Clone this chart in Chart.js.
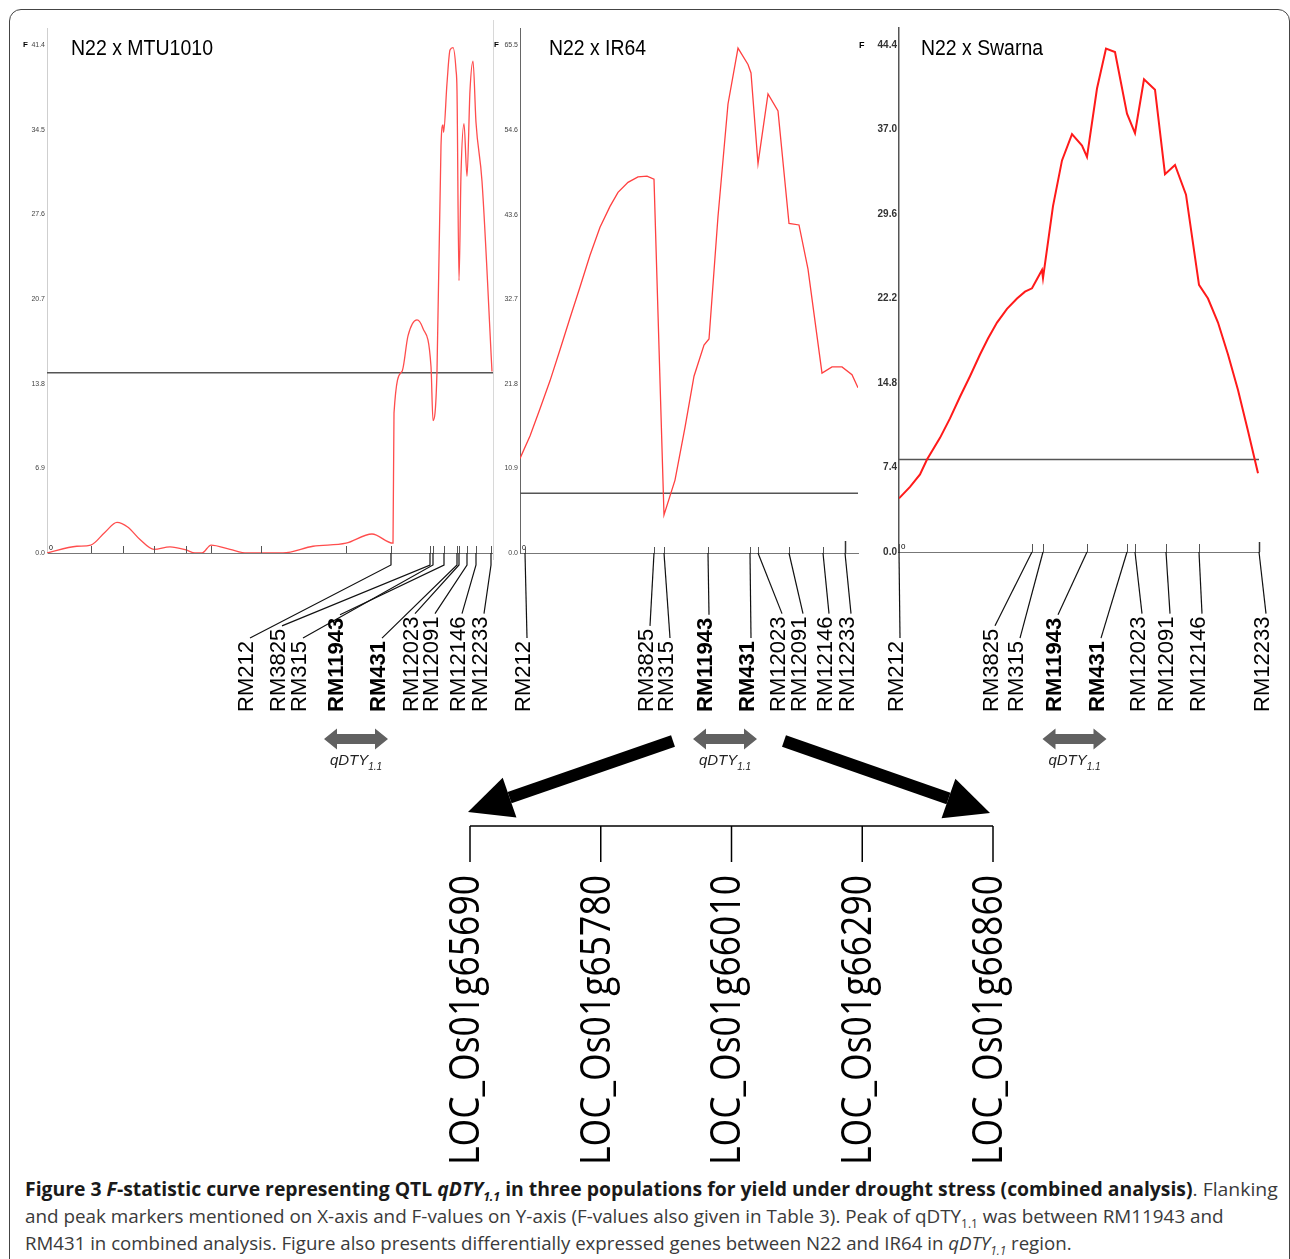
<!DOCTYPE html>
<html>
<head>
<meta charset="utf-8">
<script src="https://cdn.jsdelivr.net/npm/chart.js@4.4.0/dist/chart.umd.min.js"></script>
<style>
  body { margin: 0; background: #fff; }
  #fig { position: relative; width: 1290px; height: 1259px; overflow: hidden; background: #fff; }
  #frame { position: absolute; left: 9px; top: 9px; width: 1279px; height: 1300px; border: 1.5px solid #444; border-radius: 12px; }
  #fig canvas { position: absolute; left: 0; top: 0; }
  .cap { position: absolute; left: 25px; white-space: nowrap; font-family: 'Open Sans', sans-serif; font-size: 19px; line-height: 20px; color: #3a3a3a; transform-origin: 0 0; }
  .cap b { color: #1a1a1a; }
  .cap sub { font-size: 12px; line-height: 0; }
</style>
</head>
<body>
<div id="fig">
  <div id="frame"></div>
  <div class="cap" id="c1" style="top:1179px"><b>Figure 3 <i>F</i>-statistic curve representing QTL <i>qDTY<sub>1.1</sub></i> in three populations for yield under drought stress (combined analysis)</b>. Flanking</div>
  <div class="cap" id="c2" style="top:1206px">and peak markers mentioned on X-axis and F-values on Y-axis (F-values also given in Table 3). Peak of qDTY<sub>1.1</sub> was between RM11943 and</div>
  <div class="cap" id="c3" style="top:1233px">RM431 in combined analysis. Figure also presents differentially expressed genes between N22 and IR64 in <i>qDTY<sub>1.1</sub></i> region.</div>
</div>
<script>
// markers shown under every panel
const markerNames = ['RM212', 'RM3825', 'RM315', 'RM11943', 'RM431', 'RM12023', 'RM12091', 'RM12146', 'RM12233'];
const peakMarkers = ['RM11943', 'RM431'];

// N22 x MTU1010
const mtuPos = [0, 14.9, 21.9, 29, 35, 40.5, 46.5, 53.5, 61.5, 69.5, 74, 77.5, 82, 91.5, 100, 107, 118, 133, 149.5, 162.5, 173,
  173.5, 177.5, 180.5, 185, 188, 192, 193, 195, 197, 198, 198.3, 200, 201.5, 203, 204.5, 205, 206, 207, 208.5, 210, 211.5, 213, 214.5, 217.5, 222.5];
const mtuF = [0, 0.55, 0.65, 1.7, 2.5, 2.1, 1.1, 0.3, 0.5, 0.25, 0, 0, 0.65, 0.3, 0, 0, 0, 0.55, 0.8, 1.55, 0.8,
  11.4, 14.8, 17.7, 19.0, 18.3, 15.2, 10.8, 14.8, 33.2, 34.9, 34.3, 38.3, 41.0, 41.2, 39.4, 37.7, 22.2, 30.9, 35.0, 30.7, 37.7, 40.1, 35.1, 30.3, 14.8];
const mtuMarkers = [172, 191.5, 193, 198.5, 205, 206, 210, 214.5, 222];
const mtuOtherMarkers = [22, 38, 53.5, 69.5, 82, 107, 149.5];
const mtuThreshold = 14.7;
const mtuTicks = [0, 6.9, 13.8, 20.7, 27.6, 34.5, 41.4];

// N22 x IR64
const ir64Pos = [0, 5, 10, 15, 20, 25, 30, 35, 40, 45, 49, 54, 59, 63.5, 67, 72, 77.5, 82.5, 87, 92, 94.5, 99, 104, 109,
  114, 115.5, 119, 124, 129, 134.5, 139.5, 144, 151, 156, 161, 166, 169];
const ir64F = [12.2, 15.1, 18.6, 22.2, 26.2, 30.3, 34.3, 38.4, 42.0, 44.7, 46.5, 47.8, 48.5, 48.6, 48.2, 4.9, 9.4, 16.2, 22.8, 26.8, 27.6, 43.4, 57.9, 65.1,
  63.0, 61.9, 50.2, 59.2, 57.0, 42.5, 42.3, 36.6, 23.2, 24.0, 24.0, 23.0, 21.3];
const ir64Markers = [2.5, 67, 72, 94, 115, 119, 134.5, 151.5, 162.5];
const ir64Threshold = 7.7;
const ir64Ticks = [0, 10.9, 21.8, 32.7, 43.6, 54.6, 65.5];

// N22 x Swarna
const swarnaPos = [0, 5.5, 10.5, 14, 20.5, 25.5, 30.5, 35.5, 40.5, 44.5, 49, 54, 59, 63, 66.5, 71.5, 72, 77, 81.5, 86.5, 91.5, 94,
  99, 103.5, 108, 114, 118, 122.5, 128, 133, 138, 143.5, 150, 154.5, 159.5, 164.5, 169.5, 174.5, 179.5];
const swarnaF = [4.7, 5.7, 6.8, 8.1, 10.0, 11.7, 13.6, 15.4, 17.3, 18.7, 20.1, 21.3, 22.2, 22.8, 23.1, 24.7, 24.0, 30.3, 34.3, 36.6, 35.6, 34.6,
  40.6, 44.1, 43.8, 38.4, 36.7, 41.4, 40.5, 33.1, 33.9, 31.3, 23.4, 22.2, 20.1, 17.3, 14.2, 10.6, 6.9];
const swarnaMarkers = [0, 66.5, 72, 94, 114, 118, 133.5, 150, 180];
const swarnaThreshold = 8.1;
const swarnaTicks = [0, 7.4, 14.8, 22.2, 29.6, 37.0, 44.4];

// differentially expressed genes between N22 and IR64
const geneIds = ['LOC_Os01g65690', 'LOC_Os01g65780', 'LOC_Os01g66010', 'LOC_Os01g66290', 'LOC_Os01g66860'];

const FONT = '"Liberation Sans", Arial, sans-serif';
const labelBottom = 712;
const yBox = 30; // room kept for the y tick labels
const fig = document.getElementById('fig');

function fitText(ctx, text, x, y, w) {
  const m = ctx.measureText(text).width;
  ctx.save();
  ctx.translate(x, y);
  ctx.scale(w / m, 1);
  ctx.fillText(text, 0, 0);
  ctx.restore();
}

function line(ctx, x1, y1, x2, y2) {
  ctx.beginPath(); ctx.moveTo(x1, y1); ctx.lineTo(x2, y2); ctx.stroke();
}

function dblArrow(ctx, cx, cy, len, shaft, headW, headL) {
  const l = cx - len / 2, r = cx + len / 2;
  ctx.beginPath();
  ctx.moveTo(l, cy);
  ctx.lineTo(l + headL, cy - headW / 2); ctx.lineTo(l + headL, cy - shaft / 2);
  ctx.lineTo(r - headL, cy - shaft / 2); ctx.lineTo(r - headL, cy - headW / 2);
  ctx.lineTo(r, cy);
  ctx.lineTo(r - headL, cy + headW / 2); ctx.lineTo(r - headL, cy + shaft / 2);
  ctx.lineTo(l + headL, cy + shaft / 2); ctx.lineTo(l + headL, cy + headW / 2);
  ctx.closePath(); ctx.fill();
}

function arrow(ctx, x1, y1, x2, y2, w, headL, headW) {
  const a = Math.atan2(y2 - y1, x2 - x1);
  const bx = x2 - headL * Math.cos(a), by = y2 - headL * Math.sin(a);
  ctx.lineWidth = w; ctx.lineCap = 'butt';
  line(ctx, x1, y1, bx, by);
  ctx.beginPath();
  ctx.moveTo(x2, y2);
  ctx.lineTo(bx + headW / 2 * Math.sin(a), by - headW / 2 * Math.cos(a));
  ctx.lineTo(bx - headW / 2 * Math.sin(a), by + headW / 2 * Math.cos(a));
  ctx.closePath(); ctx.fill();
}

function drawPanel(chart, c) {
  const ctx = chart.ctx, xs = chart.scales.x, ys = chart.scales.y, a = chart.chartArea;
  const y0 = ys.getPixelForValue(0);
  ctx.save();
  if (c.rightBorder) {
    ctx.strokeStyle = '#d8d8d8'; ctx.lineWidth = 1;
    line(ctx, a.right + 0.5, 20, a.right + 0.5, 560);
  }
  // title
  ctx.fillStyle = '#000'; ctx.textAlign = 'left'; ctx.textBaseline = 'alphabetic';
  ctx.font = '22px ' + FONT;
  fitText(ctx, c.title, c.titleX, 55, c.titleW);
  // axis letter and origin
  ctx.font = 'bold ' + c.fSize + 'px ' + FONT; ctx.textBaseline = 'middle'; ctx.textAlign = 'left';
  ctx.fillText('F', c.fX, ys.getPixelForValue(c.yTicks[c.yTicks.length - 1]));
  ctx.font = (c.fSize - 1) + 'px ' + FONT; ctx.textBaseline = 'bottom';
  ctx.fillText('0', a.left + 2, y0 - 1);
  // marker ticks on the axis
  ctx.strokeStyle = '#555'; ctx.lineWidth = 1;
  c.others.concat(c.markers).forEach(v => {
    const p = Math.round(xs.getPixelForValue(v)) + 0.5;
    line(ctx, p, y0, p, y0 - c.tickH);
  });
  const last = Math.round(xs.getPixelForValue(c.markers[c.markers.length - 1])) + 0.5;
  ctx.lineWidth = 1.5; ctx.strokeStyle = '#333';
  line(ctx, last, y0, last, y0 - c.lastTickH);
  // leader lines and marker names
  c.markers.forEach((v, i) => {
    const name = markerNames[i];
    ctx.font = (peakMarkers.includes(name) ? 'bold ' : '') + '22px ' + FONT;
    const w = ctx.measureText(name).width;
    const lx = c.labelX[i], top = labelBottom - w;
    const p = xs.getPixelForValue(v);
    ctx.strokeStyle = '#111'; ctx.lineWidth = 1.2;
    ctx.beginPath();
    ctx.moveTo(p, y0); ctx.lineTo(p, y0 + c.drop); ctx.lineTo(lx + 3, top - 3);
    ctx.stroke();
    ctx.save();
    ctx.translate(lx, labelBottom); ctx.rotate(-Math.PI / 2);
    ctx.fillStyle = '#000'; ctx.textAlign = 'left'; ctx.textBaseline = 'middle';
    ctx.fillText(name, 0, 0);
    ctx.restore();
  });
  // qDTY1.1 interval between the two peak markers
  const cx = (c.labelX[markerNames.indexOf('RM11943')] + c.labelX[markerNames.indexOf('RM431')]) / 2 - 2;
  ctx.fillStyle = '#616161';
  dblArrow(ctx, cx, 739, 64, 10, 21, 13);
  ctx.fillStyle = '#222'; ctx.textBaseline = 'alphabetic'; ctx.textAlign = 'left';
  ctx.font = 'italic 15px ' + FONT;
  const w1 = ctx.measureText('qDTY').width;
  ctx.font = 'italic 10px ' + FONT;
  const w2 = ctx.measureText('1.1').width;
  const sx = cx - (w1 + w2) / 2;
  ctx.font = 'italic 15px ' + FONT;
  ctx.fillText('qDTY', sx, 765);
  ctx.font = 'italic 10px ' + FONT;
  ctx.fillText('1.1', sx + w1, 770);
  ctx.restore();
}

function panel(c) {
  const canvas = document.createElement('canvas');
  canvas.width = 1290; canvas.height = 1259;
  fig.appendChild(canvas);
  const pad = Object.assign({}, c.pad, { left: c.pad.left - yBox });
  new Chart(canvas, {
    type: 'line',
    data: {
      datasets: [
        {
          data: c.pos.map((p, i) => ({ x: p, y: c.f[i] })),
          borderColor: c.color, borderWidth: c.lw, pointRadius: 0,
          tension: c.monotone ? 0.3 : 0, cubicInterpolationMode: c.monotone ? 'monotone' : 'default'
        },
        {
          data: [{ x: 0, y: c.thr }, { x: c.xMax, y: c.thr }],
          borderColor: '#555', borderWidth: 1.5, pointRadius: 0
        }
      ]
    },
    options: {
      responsive: false,
      animation: false,
      events: [],
      layout: { padding: pad },
      plugins: { legend: { display: false }, tooltip: { enabled: false } },
      scales: {
        x: {
          type: 'linear', min: 0, max: c.xMax,
          grid: { display: false, drawTicks: false },
          ticks: { display: false },
          border: { color: '#777', width: 1 },
          afterFit: s => { s.height = 0; }
        },
        y: {
          min: 0, max: c.yMax,
          grid: { display: false, drawTicks: false },
          border: { color: c.axisColor, width: c.axisW },
          ticks: { font: c.tickFont, color: c.tickColor, padding: 2, autoSkip: false, callback: v => Number(v).toFixed(1) },
          afterBuildTicks: s => { s.ticks = c.yTicks.map(v => ({ value: v })); },
          afterFit: s => { s.width = yBox; }
        }
      }
    },
    plugins: [{ id: 'deco', afterDraw: chart => drawPanel(chart, c) }]
  });
}

panel({
  title: 'N22 x MTU1010', titleX: 71, titleW: 142,
  pad: { left: 47, top: 28, right: 797, bottom: 706 },
  xMax: 223, yMax: 42.8, yTicks: mtuTicks, thr: mtuThreshold,
  pos: mtuPos, f: mtuF, markers: mtuMarkers, others: mtuOtherMarkers,
  labelX: [247, 279, 300, 337, 379, 412, 432, 459, 481],
  drop: 12, tickH: 7, lastTickH: 0, color: '#ff4d4d', lw: 1.3, monotone: true,
  axisColor: '#cfcfcf', axisW: 1, tickFont: { size: 7, family: FONT }, tickColor: '#444',
  fX: 23, fSize: 8, rightBorder: true
});

panel({
  title: 'N22 x IR64', titleX: 549, titleW: 97,
  pad: { left: 520, top: 28, right: 432, bottom: 706 },
  xMax: 169, yMax: 67.7, yTicks: ir64Ticks, thr: ir64Threshold,
  pos: ir64Pos, f: ir64F, markers: ir64Markers, others: [],
  labelX: [524, 647, 667, 706, 748, 779, 800, 826, 848],
  drop: 0, tickH: 6, lastTickH: 12, color: '#ff4040', lw: 1.3, monotone: false,
  axisColor: '#666', axisW: 1, tickFont: { size: 7, family: FONT }, tickColor: '#444',
  fX: 494, fSize: 8, rightBorder: false
});

panel({
  title: 'N22 x Swarna', titleX: 921, titleW: 122,
  pad: { left: 899, top: 28, right: 31, bottom: 707 },
  xMax: 180, yMax: 45.9, yTicks: swarnaTicks, thr: swarnaThreshold,
  pos: swarnaPos, f: swarnaF, markers: swarnaMarkers, others: [],
  labelX: [897, 992, 1017, 1055, 1098, 1139, 1167, 1199, 1263],
  drop: 0, tickH: 8, lastTickH: 10, color: '#ff1a1a', lw: 2, monotone: false,
  axisColor: '#555', axisW: 1.5, tickFont: { size: 10, weight: 'bold', family: FONT }, tickColor: '#333',
  fX: 859, fSize: 9, rightBorder: false
});

// gene diagram under the IR64 interval
const gCanvas = document.createElement('canvas');
gCanvas.width = 1290; gCanvas.height = 1259;
fig.appendChild(gCanvas);
new Chart(gCanvas, {
  type: 'line',
  data: { labels: geneIds, datasets: [] },
  options: {
    responsive: false,
    animation: false,
    events: [],
    layout: { padding: { left: 470, right: 297, top: 826, bottom: 397 } },
    plugins: { legend: { display: false }, tooltip: { enabled: false } },
    scales: { x: { display: false }, y: { display: false } }
  },
  plugins: [{
    id: 'genes',
    afterDraw(chart) {
      const ctx = chart.ctx, xs = chart.scales.x, a = chart.chartArea;
      const px = geneIds.map((g, i) => xs.getPixelForValue(i));
      ctx.save();
      ctx.fillStyle = '#000'; ctx.strokeStyle = '#000';
      arrow(ctx, 673, 741, px[0] - 2, 812, 12, 44, 42);
      arrow(ctx, 784, 741, px[px.length - 1] - 3, 813, 12, 44, 42);
      ctx.lineWidth = 1.5;
      line(ctx, px[0], a.top, px[px.length - 1], a.top);
      px.forEach(p => line(ctx, p, a.top, p, a.bottom));
      ctx.font = '42px "Open Sans", sans-serif';
      ctx.textAlign = 'left'; ctx.textBaseline = 'middle';
      geneIds.forEach((g, i) => {
        const w = ctx.measureText(g).width;
        ctx.save();
        ctx.translate(px[i] - 3, 1165);
        ctx.rotate(-Math.PI / 2);
        ctx.scale(290 / w, 1);
        ctx.fillText(g, 0, 0);
        ctx.restore();
      });
      ctx.restore();
    }
  }]
});

// caption lines squeezed to the reference widths
const capWidths = { c1: 1253, c2: 1199, c3: 1047 };
function fitCaption() {
  Object.keys(capWidths).forEach(id => {
    const el = document.getElementById(id);
    el.style.transform = 'none';
    el.style.transform = 'scaleX(' + (capWidths[id] / el.offsetWidth) + ')';
  });
}
fitCaption();
if (document.fonts && document.fonts.ready) document.fonts.ready.then(fitCaption);
</script>
</body>
</html>
